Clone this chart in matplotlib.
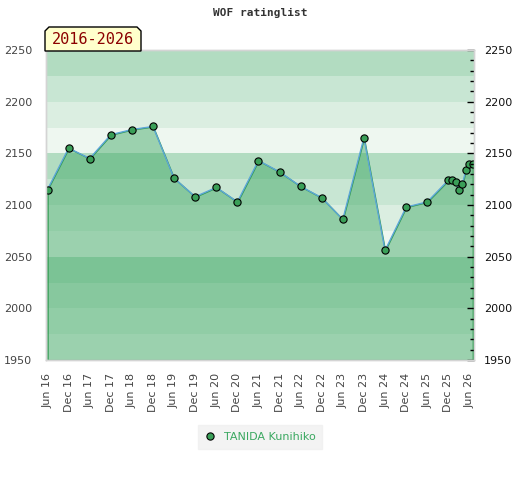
import datetime as dt
import matplotlib
matplotlib.use("Agg")
import matplotlib.pyplot as plt
import matplotlib.dates as mdates
from matplotlib.patches import Polygon
from matplotlib.lines import Line2D

# Rating list dates (year, month) and ratings
DATES = [
    (2016, 6), (2016, 12), (2017, 6), (2017, 12), (2018, 6), (2018, 12),
    (2019, 6), (2019, 12), (2020, 6), (2020, 12), (2021, 6), (2021, 12),
    (2022, 6), (2022, 12), (2023, 6), (2023, 12), (2024, 6), (2024, 12),
    (2025, 6), (2025, 12), (2026, 1), (2026, 2), (2026, 3), (2026, 4),
    (2026, 5), (2026, 6), (2026, 7),
]
RATINGS = [
    2115, 2155, 2145, 2168, 2173, 2176,
    2126, 2108, 2117, 2103, 2143, 2132,
    2118, 2107, 2086, 2165, 2056, 2098,
    2103, 2124, 2124, 2122.5, 2115, 2120,
    2133.5, 2140, 2140,
]
PLAYER = "TANIDA Kunihiko"
PERIOD = "2016-2026"
TITLE = "WOF ratinglist"

Y_MIN, Y_MAX = 1950, 2250
BAND_COLORS = ["#eef7f0", "#dbeee1", "#c8e6d3", "#b2dcc1"]  # bottom-up, repeats

W, H = 520, 480


def px(x, y):
    """pixel (from top-left) -> figure fraction"""
    return x / W, 1 - y / H


dates = [dt.datetime(y, m, 1) for y, m in DATES]

fig = plt.figure(figsize=(W / 100, H / 100), dpi=100)
ax = fig.add_axes([46 / W, 1 - 360 / H, (474 - 46) / W, 310 / H])

# Background bands
lo = Y_MIN
i = 0
while lo < Y_MAX:
    ax.axhspan(lo, lo + 25, color=BAND_COLORS[i % 4], lw=0, zorder=0)
    lo += 25
    i += 1

# Area under the curve
ax.fill_between(dates, RATINGS, Y_MIN, facecolor=(0.243, 0.659, 0.392, 0.47),
                edgecolor="#2f9a50", lw=1, zorder=1)
ax.plot(dates, RATINGS, color="#5ea6d8", lw=1.0, zorder=2)
ax.plot(dates, RATINGS, ls="none", marker="o", ms=5.2, mfc="#3a9f58",
        mec="black", mew=0.8, zorder=3)

ax.set_ylim(Y_MIN, Y_MAX)
ax.set_xlim(dates[0] - dt.timedelta(days=13), dates[-1] + dt.timedelta(days=10))

# x ticks every half year
ticks = [dt.datetime(y, m, 1) for y in range(2016, 2027) for m in (6, 12)
         if dt.datetime(y, m, 1) <= dt.datetime(2026, 6, 1)]
ax.set_xticks(ticks)
ax.xaxis.set_major_formatter(mdates.DateFormatter("%b %y"))
ax.tick_params(axis="x", length=0, pad=9, labelsize=8, labelcolor="#444444",
               rotation=90)

# left labels, no ticks
ax.set_yticks(range(Y_MIN, Y_MAX + 1, 50))
ax.tick_params(axis="y", length=0, pad=10, labelsize=8, labelcolor="#444444")

# right axis with minor ticks
ax2 = ax.twinx()
ax2.set_ylim(Y_MIN, Y_MAX)
ax2.set_yticks(range(Y_MIN, Y_MAX + 1, 50))
ax2.set_yticks(range(Y_MIN, Y_MAX + 1, 10), minor=True)
ax2.tick_params(axis="y", which="major", direction="in", length=5, width=1,
                pad=7, labelsize=8, labelcolor="#111111")
ax2.tick_params(axis="y", which="minor", direction="in", length=3, width=1)

for a in (ax, ax2):
    for s in a.spines.values():
        s.set_color("#d4d4d4")
        s.set_linewidth(1)

fig.text(0.5, 1 - 13 / H, TITLE, ha="center", va="center",
         family="DejaVu Sans Mono", weight="bold", fontsize=8, color="#333333")

# period tag with cut corners
x0, x1, y0, y1, c = 45, 141, 27, 51, 4
pts = [px(x0, y1), px(x0, y0 + c), px(x0 + c, y0), px(x1 - c, y0),
       px(x1, y0 + c), px(x1, y1)]
tag = Polygon(pts, closed=True, transform=fig.transFigure, facecolor="#ffffcc",
              edgecolor="black", lw=1, zorder=10)
fig.add_artist(tag)
tx, ty = px((x0 + x1) / 2, 40)
fig.text(tx, ty, PERIOD, ha="center", va="center", family="DejaVu Sans Mono",
         fontsize=11, color="#8b0000", zorder=11)

handle = Line2D([], [], ls="none", marker="o", ms=5.2, mfc="#3a9f58",
                mec="black", mew=0.8)
lx, ly = px(260, 437)
leg = fig.legend([handle], [PLAYER], loc="center", bbox_to_anchor=(lx, ly),
                 frameon=True, fontsize=8, handlelength=1, handletextpad=0.7,
                 borderpad=0.6, fancybox=False)
leg.get_frame().set_facecolor("#f0f0f0")
leg.get_frame().set_edgecolor("#f0f0f0")
for t in leg.get_texts():
    t.set_color("#3aa860")

fig.savefig("out.png", dpi=100)
